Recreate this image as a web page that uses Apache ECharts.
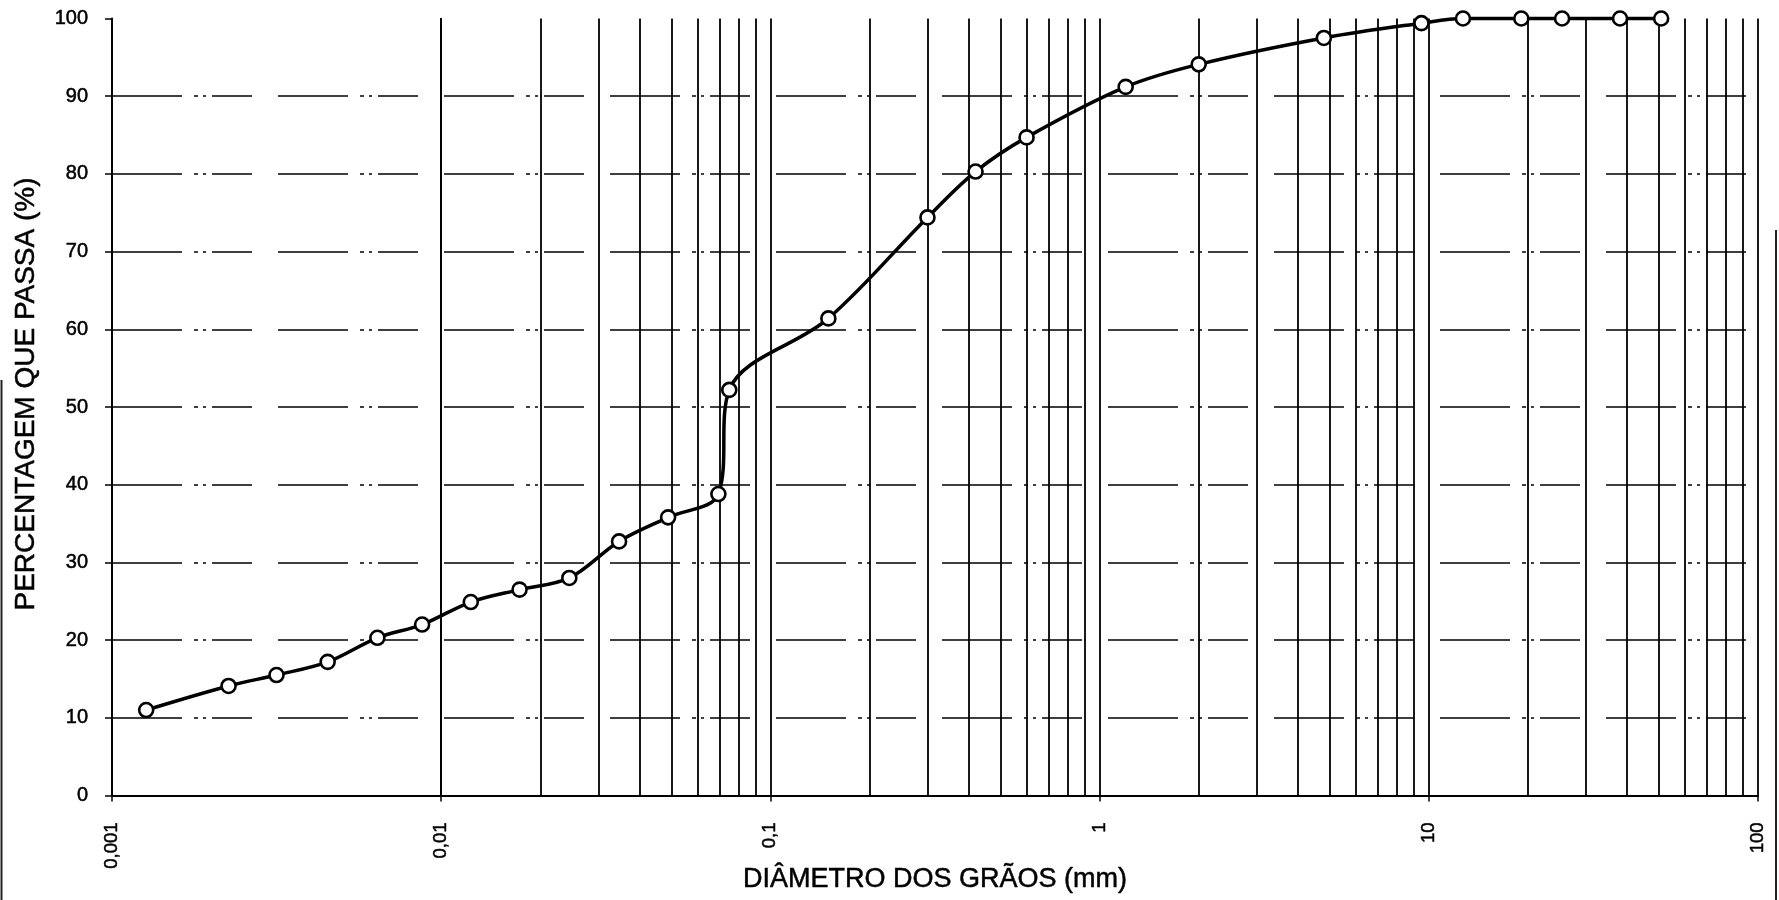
<!DOCTYPE html>
<html>
<head>
<meta charset="utf-8">
<title>Curva granulométrica</title>
<script src="https://cdn.jsdelivr.net/npm/echarts@6/dist/echarts.min.js"></script>
<style>
  html, body { margin: 0; padding: 0; background: #fff; }
  #chart { width: 1779px; height: 900px; }
</style>
</head>
<body>
<div id="chart"></div>
<script>
// Grain diameters (mm): hydrometer readings followed by sieve openings
const diameters = [0.00127, 0.00226, 0.00316, 0.00452, 0.0064, 0.00875, 0.0123, 0.0173,
  0.0245, 0.0347, 0.0489, 0.0695, 0.075, 0.15, 0.3, 0.42, 0.6, 1.2, 2.0, 4.8, 9.5,
  12.7, 19.1, 25.4, 38.1, 50.8];
// Percentage passing for each diameter
const percentPassing = [11.0, 14.1, 15.5, 17.2, 20.3, 22.0, 24.9, 26.5, 28.0, 32.7, 35.8,
  38.8, 52.2, 61.4, 74.4, 80.3, 84.7, 91.2, 94.1, 97.5, 99.4, 100, 100, 100, 100, 100];

// Decade labels of the logarithmic axis (decimal comma)
const xTickLabels = ['0,001', '0,01', '0,1', '1', '10', '100'];
const decades = [0.001, 0.01, 0.1, 1, 10];
const xTitle = 'DIÂMETRO DOS GRÃOS (mm)';
const yTitle = 'PERCENTAGEM QUE PASSA (%)';

// Vertical log-paper rulings: 1..9 within every decade, plus the last decade line
const rulings = [];
decades.forEach(d => { for (let k = 1; k <= 9; k++) rulings.push(+(k * d).toPrecision(3)); });
rulings.push(100);

const points = diameters.map((d, i) => [d, percentPassing[i]]);
const font = '"Liberation Sans", Arial, sans-serif';
// a thin outline of the same colour gives the heavier printed stroke
const ink = { color: '#000', textBorderColor: '#000', textBorderWidth: 0.5 };

const chart = echarts.init(document.getElementById('chart'), null, { renderer: 'canvas' });
chart.setOption({
  animation: false,
  backgroundColor: '#fff',
  grid: { left: 112, right: 21, top: 18.5, bottom: 104.5, outerBoundsMode: 'none' },
  xAxis: {
    type: 'log',
    logBase: 10,
    min: 0.001,
    max: 100,
    name: xTitle,
    nameLocation: 'middle',
    nameGap: 71,
    nameMoveOverlap: false,
    nameTextStyle: Object.assign({ fontFamily: font, fontSize: 27 }, ink),
    axisLine: { show: true, lineStyle: { color: '#000', width: 2 } },
    axisTick: { show: true, length: 6, lineStyle: { color: '#000', width: 1.5 } },
    axisLabel: Object.assign({
      rotate: 90,
      margin: 27,
      fontFamily: font,
      fontSize: 18.5,
      formatter: (v, i) => xTickLabels[i]
    }, ink),
    splitLine: { show: false },
    minorTick: { show: false },
    minorSplitLine: { show: false }
  },
  yAxis: {
    type: 'value',
    min: 0,
    max: 100,
    interval: 10,
    name: yTitle,
    nameLocation: 'middle',
    nameGap: 72,
    nameMoveOverlap: false,
    nameTextStyle: Object.assign({ fontFamily: font, fontSize: 28, padding: [0, 0, 0, 26] }, ink),
    axisLine: { show: true, lineStyle: { color: '#000', width: 2 } },
    axisTick: { show: true, length: 7, lineStyle: { color: '#000', width: 1.5 } },
    axisLabel: Object.assign({ margin: 24, fontFamily: font, fontSize: 20 }, ink),
    splitLine: {
      show: true,
      showMinLine: false,
      showMaxLine: false,
      lineStyle: { color: '#000', width: 1.6, type: [70, 12, 4, 5, 3, 6, 40, 26] }
    }
  },
  series: [
    {
      // log-paper rulings
      type: 'line',
      data: [],
      silent: true,
      z: 1,
      markLine: {
        silent: true,
        symbol: ['none', 'none'],
        label: { show: false },
        lineStyle: { color: '#000', width: 1.8, type: 'solid' },
        emphasis: { disabled: true },
        data: rulings.map(v => ({ xAxis: v }))
      }
    },
    {
      name: 'Curva granulométrica',
      type: 'line',
      data: points,
      smooth: 0.35,
      clip: false,
      z: 5,
      symbol: 'circle',
      symbolSize: 14,
      lineStyle: { color: '#000', width: 3.5 },
      itemStyle: { color: '#fff', borderColor: '#000', borderWidth: 2.6 }
    }
  ],
  graphic: [
    { type: 'line', shape: { x1: 1.5, y1: 380, x2: 1.5, y2: 900 }, style: { stroke: '#222', lineWidth: 2 }, silent: true },
    { type: 'line', shape: { x1: 1776, y1: 230, x2: 1776, y2: 900 }, style: { stroke: '#222', lineWidth: 2 }, silent: true }
  ]
});
</script>
</body>
</html>
